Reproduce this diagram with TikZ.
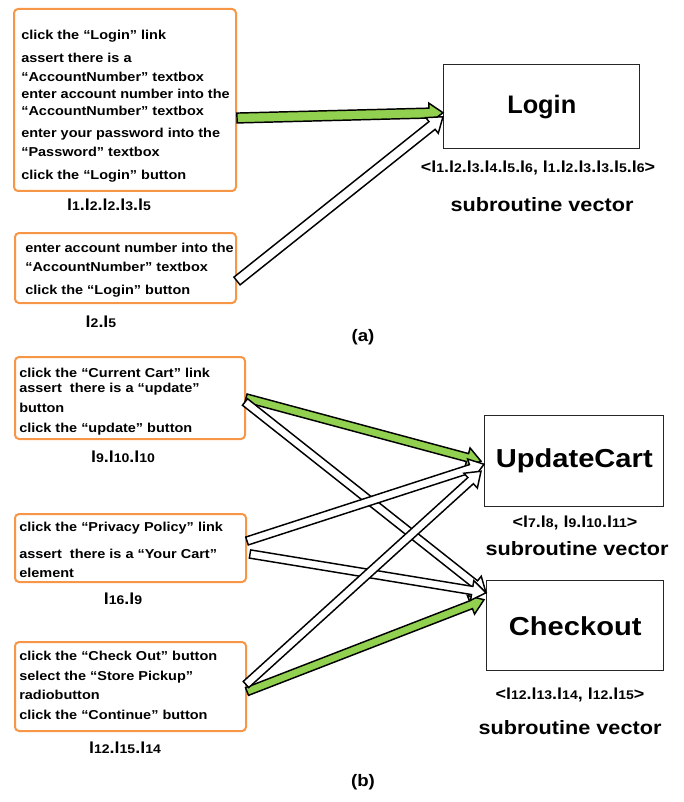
\documentclass[tikz,border=0pt]{standalone}
\usepackage{fontspec}
\setmainfont{Liberation Sans}[FakeStretch=1.12]
\newfontfamily\plainsans{Liberation Sans}
\usetikzlibrary{calc}

\definecolor{boxorange}{HTML}{F79646}
\definecolor{pathgreen}{HTML}{92D050}

% line index such as l12: the number is set smaller than the letter
\newcommand\lx[1]{l{\fontsize{9.4}{11}\selectfont #1}}

% fat block arrow from #2 to #3, filled with #1
\newcommand\shaftw{3.4pt}
\newcommand\headw{7.5pt}
\newcommand\headl{10.5pt}
\newcommand\fatarrow[3]{%
  \draw[arrowline, fill=#1] let \p1=($(#3)-(#2)$), \n1={atan2(\y1,\x1)} in
    ($(#2)+(\n1+90:\shaftw)$)
    -- ($(#3)+(\n1+180:\headl)+(\n1+90:\shaftw)$)
    -- ($(#3)+(\n1+180:\headl)+(\n1+90:\headw)$)
    -- (#3)
    -- ($(#3)+(\n1+180:\headl)+(\n1-90:\headw)$)
    -- ($(#3)+(\n1+180:\headl)+(\n1-90:\shaftw)$)
    -- ($(#2)+(\n1-90:\shaftw)$) -- cycle;}

\tikzset{
  stepbox/.style={draw=boxorange, line width=1.5pt, rounded corners=3pt, fill=white,
    inner sep=0pt, anchor=north west},
  steptext/.style={anchor=west, align=left, inner sep=0pt,
    font=\bfseries\fontsize{9.7}{14}\selectfont},
  subbox/.style={draw=black!85, line width=1.1pt, fill=white, inner sep=0pt, anchor=north west},
  subname/.style={font=\plainsans\bfseries\fontsize{19}{22}\selectfont},
  subnamewide/.style={font=\bfseries\fontsize{19.5}{22}\selectfont},
  seqlabel/.style={font=\bfseries\fontsize{12}{14}\selectfont},
  veclabel/.style={font=\bfseries\fontsize{14.5}{17}\selectfont},
  arrowline/.style={draw=black, line width=1.1pt, line join=miter},
  caption/.style={font=\bfseries\fontsize{12.5}{15}\selectfont},
}

\begin{document}
\begin{tikzpicture}[x=0.75pt, y=-0.75pt]
\useasboundingbox (0,0) rectangle (684,802);

% ---------------- (a) ----------------
\node[stepbox, minimum width=166.5pt, minimum height=136.5pt] (b1) at (13,8) {};
\node[steptext] (t1) at (21,106) {click the “Login” link\\[3.2pt]
  assert there is a\\[0.3pt]
  “AccountNumber” textbox\\[-1.3pt]
  enter account number into the\\[-1.3pt]
  “AccountNumber” textbox\\[2.5pt]
  enter your password into the\\[0.3pt]
  “Password” textbox\\[3.2pt]
  click the “Login” button};
\node[seqlabel] (q1) at (109,205) {\lx1.\lx2.\lx2.\lx3.\lx5};

\node[stepbox, minimum width=165.75pt, minimum height=52.5pt] (b2) at (14,232) {};
\node[steptext] (t2) at (25,270) {enter account number into the\\[0.3pt]
  “AccountNumber” textbox\\[3.2pt]
  click the “Login” button};
\node[seqlabel] (q2) at (101,322) {\lx2.\lx5};

\node[subbox, minimum width=147pt, minimum height=63pt] (login) at (443,64) {};
\node[subname] at (login.center) {Login};
\node[seqlabel] (v1) at (538,168) {<\lx1.\lx2.\lx3.\lx4.\lx5.\lx6, \lx1.\lx2.\lx3.\lx3.\lx5.\lx6>};
\node[veclabel] (s1) at (542,205) {subroutine vector};

\coordinate (a1s) at ($(b1.east)+(0,18)$);
\coordinate (a1e) at ($(login.west)+(0,6)$);
\coordinate (a2s) at ($(b2.east)+(0,13)$);
\coordinate (a2e) at ($(login.west)+(0,10)$);
\renewcommand\shaftw{3.7pt}
\fatarrow{pathgreen}{a1s}{a1e}
\fatarrow{white}{a2s}{a2e}

\node[caption] (capa) at (363,337) {(a)};

% ---------------- (b) ----------------
\node[stepbox, minimum width=172.5pt, minimum height=61.5pt] (bA) at (14,356) {};
\node[steptext] (tA) at (19,401.5) {click the “Current Cart” link\\[-2.8pt]
  assert\ \ there is a “update”\\[1pt]
  button\\[1pt]
  click the “update” button};
\node[seqlabel] (qA) at (123,457) {\lx9.\lx{10}.\lx{10}};

\node[stepbox, minimum width=173.25pt, minimum height=51pt] (bB) at (14,513) {};
\node[steptext] (tB) at (19,550) {click the “Privacy Policy” link\\[6pt]
  assert\ \ there is a “Your Cart”\\[0.3pt]
  element};
\node[seqlabel] (qB) at (123,599) {\lx{16}.\lx9};

\node[stepbox, minimum width=173.25pt, minimum height=66.75pt] (bC) at (14,641) {};
\node[steptext] (tC) at (19,685.5) {click the “Check Out” button\\[1pt]
  select the “Store Pickup”\\[0.3pt]
  radiobutton\\[1pt]
  click the “Continue” button};
\node[seqlabel] (qC) at (125,748) {\lx{12}.\lx{15}.\lx{14}};

\node[subbox, minimum width=134.25pt, minimum height=68.25pt] (upd) at (484,415) {};
\node[subnamewide] at (upd.center) {UpdateCart};
\node[seqlabel] (v2) at (575,523) {<\lx7.\lx8, \lx9.\lx{10}.\lx{11}>};
\node[veclabel] (s2) at (577,549) {subroutine vector};

\node[subbox, minimum width=132.75pt, minimum height=67.5pt] (chk) at (486,580) {};
\node[subnamewide] at (chk.center) {Checkout};
\node[seqlabel] (v3) at (570,695) {<\lx{12}.\lx{13}.\lx{14}, \lx{12}.\lx{15}>};
\node[veclabel] (s3) at (570,728) {subroutine vector};

\coordinate (gAs) at ($(bA.east)+(0,0)$);
\coordinate (gAe) at ($(upd.west)+(-3,0)$);
\coordinate (wAs) at ($(bA.east)+(-1,4)$);
\coordinate (wAe) at ($(chk.west)+(0,-33)$);
\coordinate (wB1s) at ($(bB.east)+(0,-7)$);
\coordinate (wB1e) at ($(upd.west)+(0,3)$);
\coordinate (wB2s) at ($(bB.east)+(3,6)$);
\coordinate (wB2e) at ($(chk.west)+(0,-33)$);
\coordinate (wCs) at ($(bC.east)+(-1,-2)$);
\coordinate (wCe) at ($(upd.west)+(-3,10)$);
\coordinate (gCs) at ($(bC.east)+(0,5)$);
\coordinate (gCe) at ($(chk.west)+(-2,-26)$);

\renewcommand\shaftw{3.1pt}
\fatarrow{pathgreen}{gAs}{gAe}
\fatarrow{pathgreen}{gCs}{gCe}
\fatarrow{white}{wAs}{wAe}
\fatarrow{white}{wB1s}{wB1e}
\fatarrow{white}{wB2s}{wB2e}
\fatarrow{white}{wCs}{wCe}

\node[caption] (capb) at (363,782) {(b)};
\end{tikzpicture}
\end{document}
